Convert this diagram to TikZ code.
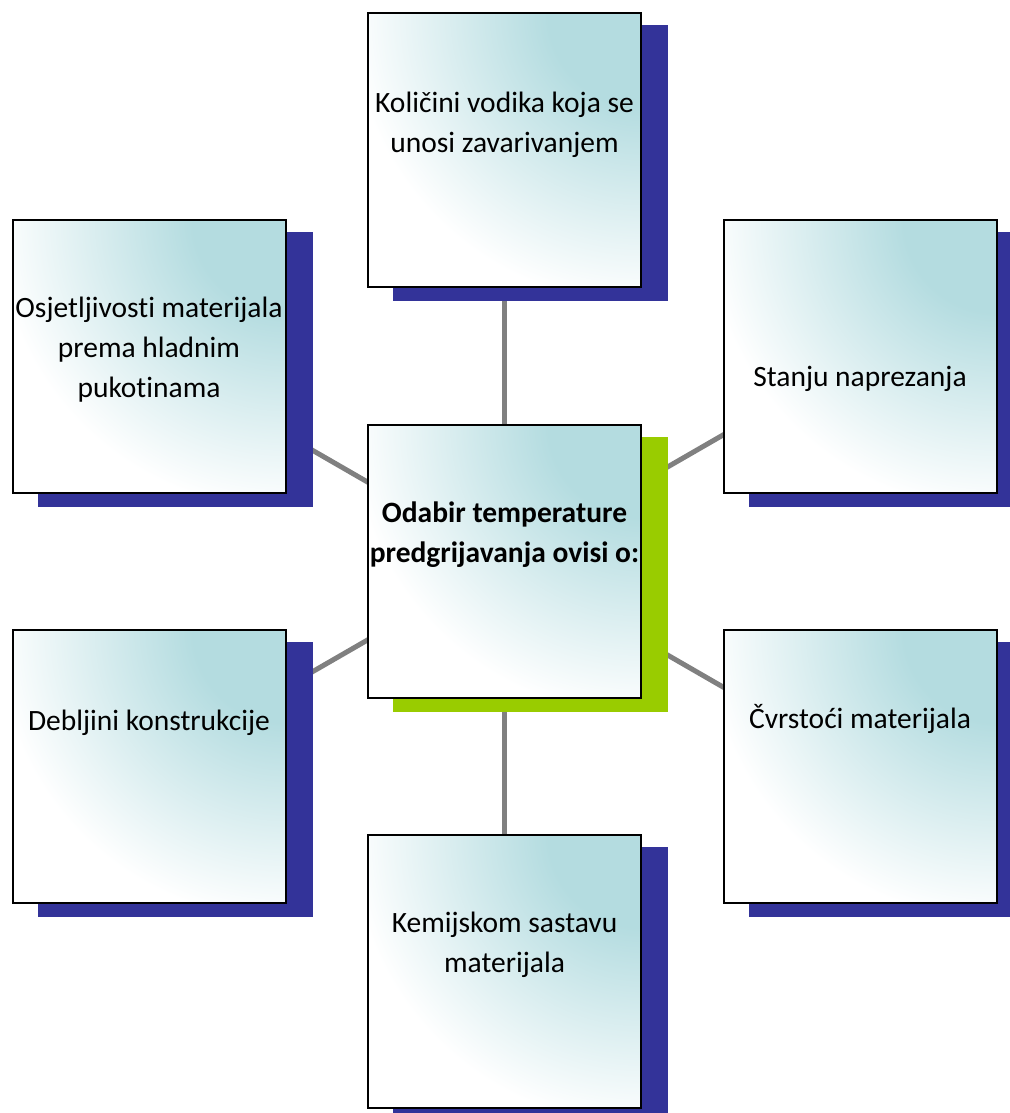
\documentclass[tikz,border=0pt]{standalone}
\usepackage{fontspec}
\setmainfont{Carlito}[Ligatures=NoCommon]
\usetikzlibrary{backgrounds,calc}
\definecolor{navyshadow}{RGB}{51,51,153}
\definecolor{greenshadow}{RGB}{153,204,0}
\definecolor{tealfill}{RGB}{180,220,224}
\definecolor{linkgray}{RGB}{128,128,128}
\pgfdeclareradialshading{cornerglow}{\pgfpointorigin}{%
  color(0bp)=(tealfill); color(8bp)=(tealfill); color(25bp)=(white); color(50bp)=(white)}
\tikzset{
  card/.style={rectangle, draw=black, line width=2pt, minimum width=273pt,
    minimum height=273pt, inner sep=0pt, fill=white,
    path picture={\shade[shading=cornerglow]
      (path picture bounding box.north east) circle (290pt);}},
  caption/.style={font=\fontsize{29.5}{40}\selectfont, align=center,
    anchor=base, inner sep=0pt},
  captionbold/.style={caption, font=\fontsize{29.5}{40}\selectfont\bfseries},
  link/.style={draw=linkgray, line width=5pt},
  navyshade/.style={fill=navyshadow},
  greenshade/.style={fill=greenshadow},
}
\begin{document}
\begin{tikzpicture}[x=1pt,y=-1pt]
\useasboundingbox (0,0) rectangle (1009,1113);
% boxes
\node[card] (C)  at (504.5,561) {};
\node[card] (T)  at (504.5,150) {};
\node[card] (B)  at (504.5,971) {};
\node[card] (LU) at (149,356) {};
\node[card] (RU) at (860,356) {};
\node[card] (LL) at (149,766) {};
\node[card] (RL) at (860,766) {};
% texts (base anchor = baseline of the last line)
\node[caption] (tT) at (504.5,153) {Količini vodika koja se\\unosi zavarivanjem};
\node[caption] (tLU) at (149,397) {Osjetljivosti materijala\\prema hladnim\\pukotinama};
\node[caption] (tRU) at (860,386) {Stanju naprezanja};
\node[captionbold] (tC) at (504.5,562) {Odabir temperature\\predgrijavanja ovisi o:};
\node[caption] (tLL) at (149,730) {Debljini konstrukcije};
\node[caption] (tRL) at (860,728) {Čvrstoći materijala};
\node[caption] (tB) at (504.5,972) {Kemijskom sastavu\\materijala};
\begin{pgfonlayer}{background}
  % connectors
  \draw[link] (C.center) -- (T.center);
  \draw[link] (C.center) -- (B.center);
  \draw[link] (C.center) -- (LU.center);
  \draw[link] (C.center) -- (RU.center);
  \draw[link] (C.center) -- (LL.center);
  \draw[link] (C.center) -- (RL.center);
  % shadows
  \foreach \n in {T,B,LU,RU,LL,RL}{
    \fill[navyshade] ($(\n.south west)+(26,13)$) rectangle ($(\n.north east)+(26,13)$);
  }
  \fill[greenshade] ($(C.south west)+(26,13)$) rectangle ($(C.north east)+(26,13)$);
\end{pgfonlayer}
\end{tikzpicture}
\end{document}
